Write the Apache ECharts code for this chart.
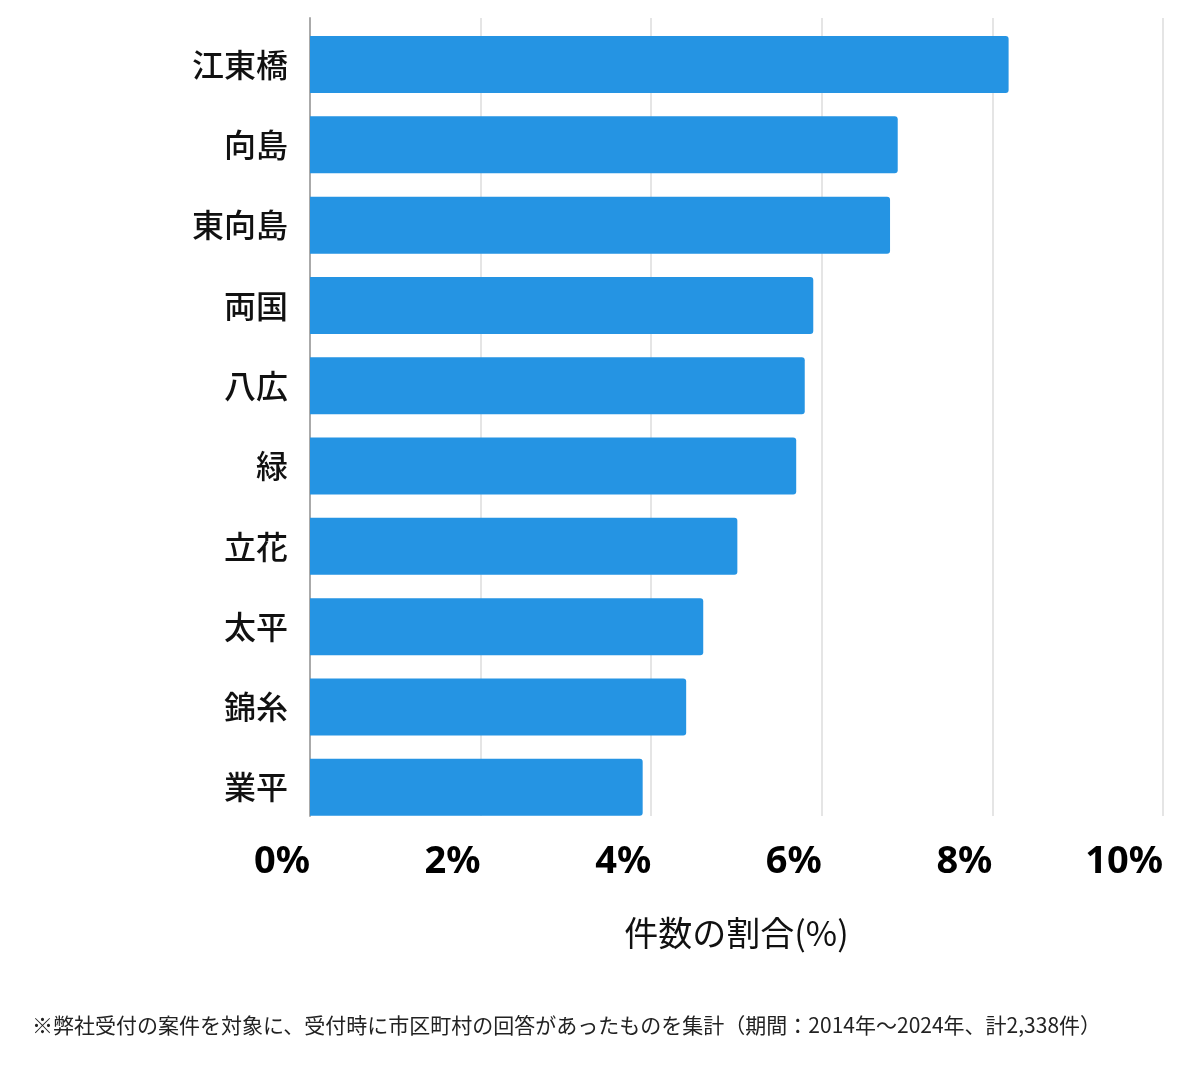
<!DOCTYPE html>
<html><head><meta charset="utf-8">
<script src="https://cdn.jsdelivr.net/npm/echarts@6/dist/echarts.min.js"></script>
<style>html,body{margin:0;padding:0;background:#fff}#c{width:1200px;height:1069px}</style>
</head><body><div id="c"></div>
<script>
const categories = ['江東橋','向島','東向島','両国','八広','緑','立花','太平','錦糸','業平'];
const values = [8.19, 6.89, 6.80, 5.90, 5.80, 5.70, 5.01, 4.61, 4.41, 3.90];
const xTicks = { min: 0, max: 10, interval: 2 };
const axisName = '件数の割合(%)';
const footnote = '※弊社受付の案件を対象に、受付時に市区町村の回答があったものを集計（期間：2014年～2024年、計2,338件）';

const font = '"Noto Sans CJK JP", "Noto Sans", sans-serif';
const chart = echarts.init(document.getElementById('c'), null, {renderer:'canvas'});
chart.setOption({
  animation: false,
  textStyle: { fontFamily: font },
  grid: [
    { left: 310, right: 37, top: 18, height: 798 },
    { left: 310, right: 37, top: 24.4, height: 803 }
  ],
  xAxis: [
    { gridIndex: 0, type: 'value', min: xTicks.min, max: xTicks.max, interval: xTicks.interval,
      axisLine: { show: false }, axisTick: { show: false },
      splitLine: { show: true, lineStyle: { color: '#dcdcdc', width: 1.5 } },
      axisLabel: { formatter: '{value}%', align: 'right', margin: 27, fontSize: 38, fontWeight: 'bold', color: '#000', fontFamily: '"Noto Sans", sans-serif' },
      name: axisName, nameLocation: 'middle', nameGap: 100,
      nameTextStyle: { fontSize: 34, color: '#111', fontFamily: font } },
    { gridIndex: 1, type: 'value', min: xTicks.min, max: xTicks.max, show: false }
  ],
  yAxis: [
    { gridIndex: 0, type: 'category', data: categories, inverse: true,
      axisLine: { show: true, lineStyle: { color: '#aaaaaa', width: 2 } },
      axisTick: { show: false }, axisLabel: { show: false }, splitLine: { show: false } },
    { gridIndex: 1, type: 'category', data: categories, inverse: true,
      axisLine: { show: false }, axisTick: { show: false },
      axisLabel: { margin: 22, fontSize: 32, fontWeight: 500, color: '#111', fontFamily: font } }
  ],
  series: [{
    type: 'bar', xAxisIndex: 1, yAxisIndex: 1, data: values,
    barCategoryGap: '29%',
    itemStyle: { color: '#2594e3', borderRadius: [0, 3, 3, 0] }
  }],
  graphic: [{
    type: 'text', left: 32, top: 1015,
    style: { text: footnote, fontSize: 21, fill: '#222', fontFamily: font }
  }]
});
</script></body></html>
